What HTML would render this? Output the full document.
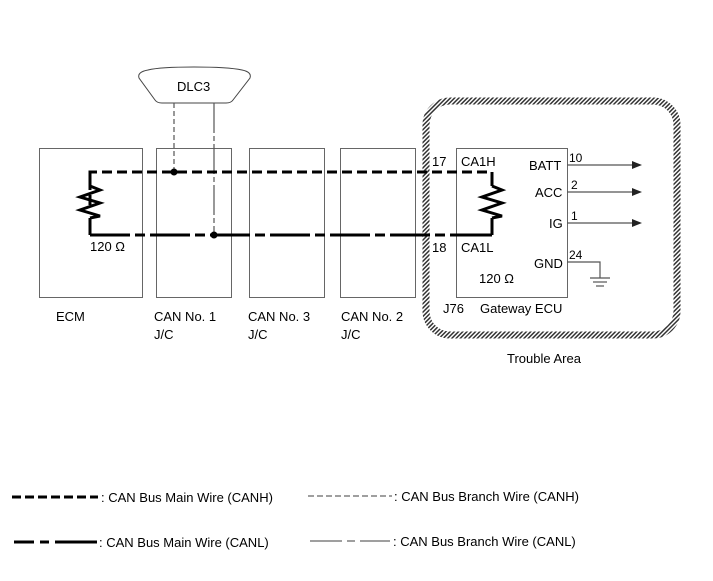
<!DOCTYPE html>
<html><head><meta charset="utf-8"><style>
body{margin:0;background:#fff}
svg{display:block;font-family:"Liberation Sans",Arial,sans-serif}
</style></head><body>
<svg width="713" height="581" viewBox="0 0 713 581" xmlns="http://www.w3.org/2000/svg">
<defs>
<pattern id="h" width="3" height="3" patternUnits="userSpaceOnUse" patternTransform="rotate(45)">
<rect width="3" height="3" fill="#fff"/><rect width="1.5" height="3" fill="#333"/>
</pattern>
</defs>
<rect x="426" y="101" width="251" height="234" rx="24" fill="none" stroke="url(#h)" stroke-width="7"/>
<text x="507" y="363" font-size="13">Trouble Area</text>
<g fill="none" stroke="#666" stroke-width="1">
<rect x="39.5" y="148.5" width="103" height="149"/>
<rect x="156.5" y="148.5" width="75" height="149"/>
<rect x="249.5" y="148.5" width="75" height="149"/>
<rect x="340.5" y="148.5" width="75" height="149"/>
<rect x="456.5" y="148.5" width="111" height="149"/>
</g>
<path d="M148 70 Q160 67 194 67 Q228 67 242 70 Q252 72 250 78 L233 100 Q231 103 226 103 L162 103 Q157 103 155 100 L139 78 Q137 72 148 70 Z" fill="#fff" stroke="#444" stroke-width="1"/>
<text x="177" y="91" font-size="13">DLC3</text>
<line x1="174" y1="103" x2="174" y2="172" stroke="#555" stroke-width="1.2" stroke-dasharray="5,3"/>
<line x1="214" y1="103" x2="214" y2="235" stroke="#555" stroke-width="1.2" stroke-dasharray="30,3,5,3"/>
<path d="M90 205 L90 172 L492 172 L492 186" fill="none" stroke="#000" stroke-width="3" stroke-dasharray="10,5"/>
<path d="M90 172 L90 186" stroke="#000" stroke-width="3"/>
<path d="M492 172 L492 186" stroke="#000" stroke-width="3"/>
<path d="M90 235 L492 235" fill="none" stroke="#000" stroke-width="3" stroke-dasharray="40,5,10,5"/>
<path d="M90 235 L110 235 M90 218 L90 235 M492 218 L492 235 M470 235 L492 235" stroke="#000" stroke-width="3" fill="none"/>
<polyline points="90,186 100,190 80,197 100,203 80,210 100,216 90,218" fill="none" stroke="#000" stroke-width="3"/>
<polyline points="492,186 502,190 482,197 502,203 482,210 502,216 492,218" fill="none" stroke="#000" stroke-width="3"/>
<circle cx="174" cy="172" r="3.5"/>
<circle cx="214" cy="235" r="3.5"/>
<g font-size="13">
<text x="90" y="251">120 Ω</text>
<text x="56" y="321">ECM</text>
<text x="154" y="321">CAN No. 1</text><text x="154" y="339">J/C</text>
<text x="248" y="321">CAN No. 3</text><text x="248" y="339">J/C</text>
<text x="341" y="321">CAN No. 2</text><text x="341" y="339">J/C</text>
<text x="432" y="166">17</text>
<text x="461" y="166">CA1H</text>
<text x="432" y="252">18</text>
<text x="461" y="252">CA1L</text>
<text x="479" y="283">120 Ω</text>
<text x="443" y="313">J76</text>
<text x="480" y="313">Gateway ECU</text>
<text x="529" y="170">BATT</text>
<text x="535" y="197">ACC</text>
<text x="549" y="228">IG</text>
<text x="534" y="268">GND</text>
<text x="569" y="162" font-size="12">10</text>
<text x="571" y="189" font-size="12">2</text>
<text x="571" y="220" font-size="12">1</text>
<text x="569" y="259" font-size="12">24</text>
</g>
<g stroke="#555" stroke-width="1.2">
<line x1="567" y1="165" x2="635" y2="165"/>
<line x1="567" y1="192" x2="635" y2="192"/>
<line x1="567" y1="223" x2="635" y2="223"/>
<polyline points="567,262 600,262 600,278" fill="none"/>
<line x1="590" y1="278" x2="610" y2="278"/>
<line x1="593" y1="282" x2="607" y2="282"/>
<line x1="596" y1="286" x2="604" y2="286"/>
</g>
<g fill="#222">
<polygon points="632,161 642,165 632,169"/>
<polygon points="632,188 642,192 632,196"/>
<polygon points="632,219 642,223 632,227"/>
</g>
<line x1="12" y1="497" x2="98" y2="497" stroke="#000" stroke-width="3" stroke-dasharray="9,4"/>
<text x="101" y="502" font-size="13">: CAN Bus Main Wire (CANH)</text>
<line x1="308" y1="496" x2="392" y2="496" stroke="#666" stroke-width="1.2" stroke-dasharray="6,3"/>
<text x="394" y="501" font-size="13">: CAN Bus Branch Wire (CANH)</text>
<path d="M14 542 L34 542 M40 542 L49 542 M55 542 L97 542" stroke="#000" stroke-width="3"/>
<text x="99" y="547" font-size="13">: CAN Bus Main Wire (CANL)</text>
<path d="M310 541 L342 541 M347 541 L355 541 M360 541 L390 541" stroke="#666" stroke-width="1.2"/>
<text x="393" y="546" font-size="13">: CAN Bus Branch Wire (CANL)</text>
</svg>
</body></html>
